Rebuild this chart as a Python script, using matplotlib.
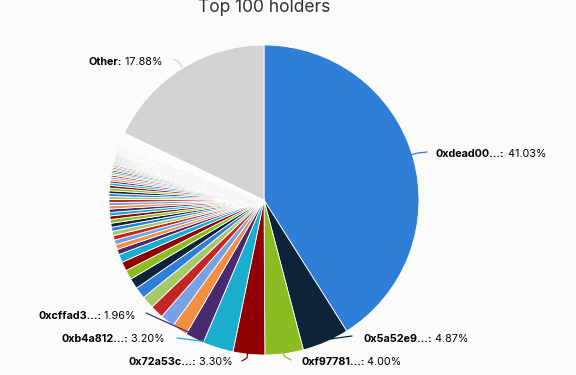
import matplotlib
matplotlib.use("Agg")
import matplotlib.pyplot as plt

plt.rcParams['font.family'] = ['Inter', 'DejaVu Sans']

# --- data ---
top_names = ['0xdead00...', '0x5a52e9...', '0xf97781...', '0x72a53c...', '0xb4a812...', '0xcffad3...']
top_shares = [41.03, 4.87, 4.00, 3.30, 3.20, 1.96]

# unlabeled holders (7th .. 100th)
rest_shares = [1.60, 1.50, 1.40, 1.30, 1.20, 1.10, 1.00, 0.95, 0.85,
               0.55, 0.52, 0.49, 0.47, 0.45, 0.43, 0.41, 0.39, 0.37, 0.36,
               0.35, 0.34, 0.33, 0.32, 0.31, 0.30, 0.29, 0.28, 0.27, 0.26,
               0.22, 0.21, 0.20, 0.19, 0.18, 0.17, 0.16, 0.15, 0.14, 0.13,
               0.13, 0.13, 0.12, 0.12, 0.12, 0.11, 0.11, 0.11, 0.11, 0.10,
               0.10, 0.10, 0.10, 0.09, 0.09, 0.09, 0.09, 0.09, 0.09, 0.08,
               0.06, 0.06, 0.06, 0.06, 0.06, 0.06, 0.05, 0.05, 0.05, 0.05,
               0.05, 0.05, 0.05, 0.05, 0.05, 0.04, 0.04, 0.04, 0.04, 0.04,
               0.04, 0.04, 0.04, 0.04, 0.04, 0.04, 0.03, 0.03, 0.03, 0.03,
               0.03, 0.03, 0.03, 0.03, 0.03]
other_share = 17.88

palette = ['#2f7ed8', '#0d233a', '#8bbc21', '#910000', '#1aadce',
           '#492970', '#f28f43', '#77a1e5', '#c42525', '#a6c96a']

shares = top_shares + rest_shares + [other_share]
colors = [palette[i % len(palette)] for i in range(len(shares) - 1)] + ['#d3d3d3']

W, H = 576, 375
BG = '#fbfbfc'
FS = 7.8

fig = plt.figure(figsize=(W / 100, H / 100), dpi=100, facecolor=BG)
ax = fig.add_axes([0, 0, 1, 1])
ax.set_facecolor(BG)

ax.pie(shares, colors=colors, startangle=90, counterclock=False,
       center=(264, H - 200), radius=155, normalize=True,
       wedgeprops=dict(edgecolor='white', linewidth=0.6))
ax.set_xlim(0, W)
ax.set_ylim(0, H)
ax.set_aspect('equal')
ax.axis('off')


def py(y):
    return H - y


def connector(line, color):
    ax.plot([p[0] for p in line], [py(p[1]) for p in line],
            color=color, lw=0.9, solid_capstyle='round')


def label_right(name, value, x, y):
    # label to the right of the pie: starts at x
    t = ax.text(x, py(y), name + ':', fontsize=FS, fontweight='bold',
                color='black', ha='left', va='center')
    ax.annotate(' ' + value, xy=(1, 0), xycoords=t, fontsize=FS,
                color='black', ha='left', va='bottom')


def label_left(name, value, x, y):
    # label to the left of the pie: ends at x
    t = ax.text(x, py(y), ' ' + value, fontsize=FS,
                color='black', ha='right', va='center')
    ax.annotate(name + ':', xy=(0, 0), xycoords=t, fontsize=FS,
                fontweight='bold', color='black', ha='right', va='bottom')


connector([(410, 155), (418, 153), (427, 152)], colors[0])
label_right(top_names[0], '%.2f%%' % top_shares[0], 436, 154)

connector([(325, 337), (330, 339), (352, 336)], colors[1])
label_right(top_names[1], '%.2f%%' % top_shares[1], 363, 339)

connector([(283, 348), (284, 356), (291, 360)], colors[2])
label_right(top_names[2], '%.2f%%' % top_shares[2], 301, 362)

connector([(248, 349), (247, 358), (242, 361)], colors[3])
label_left(top_names[3], '%.2f%%' % top_shares[3], 233, 362)

connector([(218, 340), (216, 343), (177, 338)], colors[4])
label_left(top_names[4], '%.2f%%' % top_shares[4], 165, 339)

connector([(193, 334), (186, 331), (146, 313)], colors[5])
label_left(top_names[5], '%.2f%%' % top_shares[5], 136, 316)

connector([(182, 67), (179, 62), (173, 59)], '#d3d3d3')
label_left('Other', '%.2f%%' % other_share, 162, 62)

ax.text(264, py(12), 'Top 100 holders', fontsize=12.5, color='#333333',
        ha='center', va='baseline')

fig.savefig('out.png', dpi=100, facecolor=BG)
